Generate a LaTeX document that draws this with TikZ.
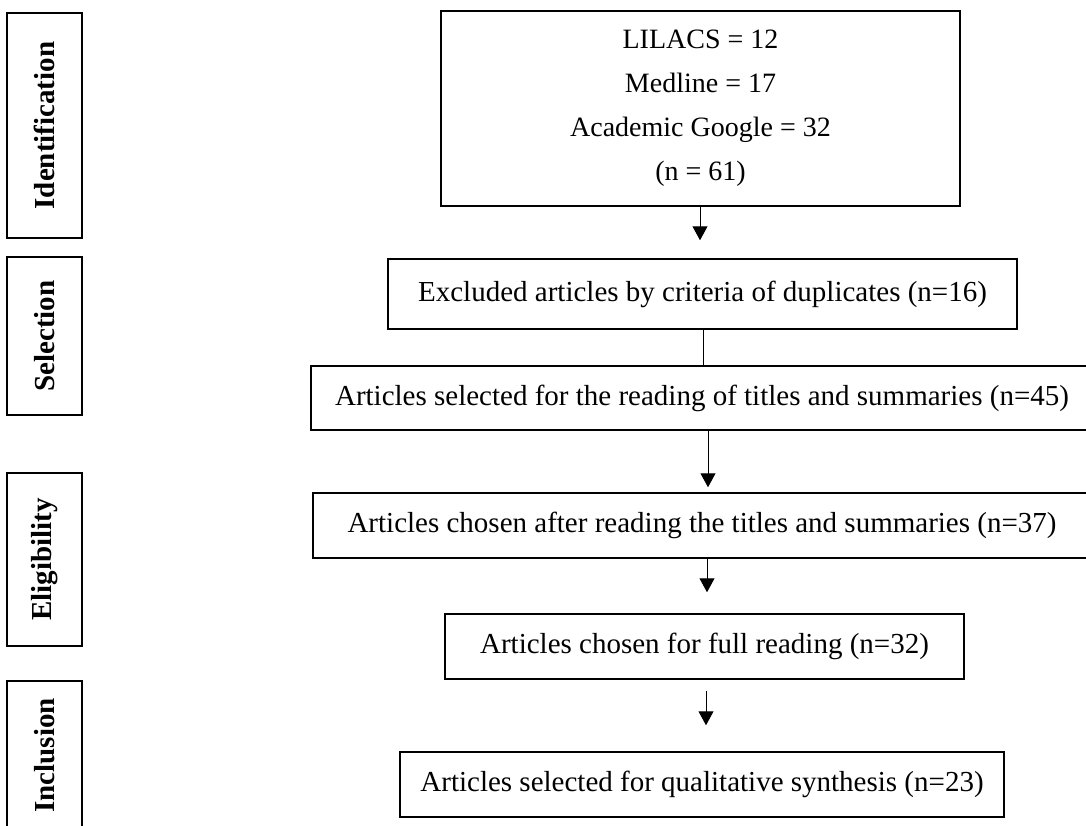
\documentclass[tikz,border=0pt]{standalone}
\usepackage{fontspec}
\setmainfont{Liberation Serif}
\usetikzlibrary{arrows.meta}
\tikzset{
  box/.style={draw, line width=1.5pt, inner sep=0pt, align=center, font=\fontsize{29}{44}\selectfont},
  phase/.style={draw, line width=1.5pt, inner sep=0pt, rotate=90, minimum height=75pt, font=\fontsize{29}{30}\selectfont\bfseries},
  arr/.style={line width=1pt, -{Triangle[length=14pt,width=15pt]}},
}
\begin{document}
\begin{tikzpicture}[x=1pt, y=-1pt]
    \clip (0,0) rectangle (1086,825);
    \node[phase, minimum width=225pt] (ident) at (44.5,125.5) {Identification};
    \node[phase, minimum width=158pt] (selec) at (44.5,336) {Selection};
    \node[phase, minimum width=173pt] (elig) at (44.5,559.5) {Eligibility};
    \node[phase, minimum width=149pt] (incl) at (44.5,755.5) {Inclusion};
    \node[box, minimum width=519pt, minimum height=195pt, font=\fontsize{28}{44}\selectfont] (src) at (700.5,108.5)
        {LILACS = 12\\Medline = 17\\Academic Google = 32\\(n = 61)};
    \node[box, minimum width=629pt, minimum height=70pt] (dup) at (702.5,294)
        {Excluded articles by criteria of duplicates (n=16)};
    \node[box, minimum width=782pt, minimum height=64pt] (sel) at (702,398)
        {Articles selected for the reading of titles and summaries (n=45)};
    \node[box, minimum width=778pt, minimum height=65pt] (cho) at (702,525.5)
        {Articles chosen after reading the titles and summaries (n=37)};
    \node[box, minimum width=519pt, minimum height=65pt] (full) at (704.5,646.5)
        {Articles chosen for full reading (n=32)};
    \node[box, minimum width=604pt, minimum height=65pt] (syn) at (702,784.5)
        {Articles selected for qualitative synthesis (n=23)};
    \draw[arr, shorten >=18pt] ([xshift=-0.5pt]src.south) -- ([xshift=-2.5pt]dup.north);
    \draw[line width=1pt] ([xshift=0.5pt]dup.south) -- ([xshift=1pt]sel.north);
    \draw[arr, shorten >=5pt] ([xshift=6pt]sel.south) -- ([xshift=6pt]cho.north);
    \draw[arr, shorten >=21pt] ([xshift=5pt]cho.south) -- ([xshift=2.5pt]full.north);
    \draw[arr, shorten <=11pt, shorten >=26pt] ([xshift=1.5pt]full.south) -- ([xshift=4pt]syn.north);
\end{tikzpicture}
\end{document}
